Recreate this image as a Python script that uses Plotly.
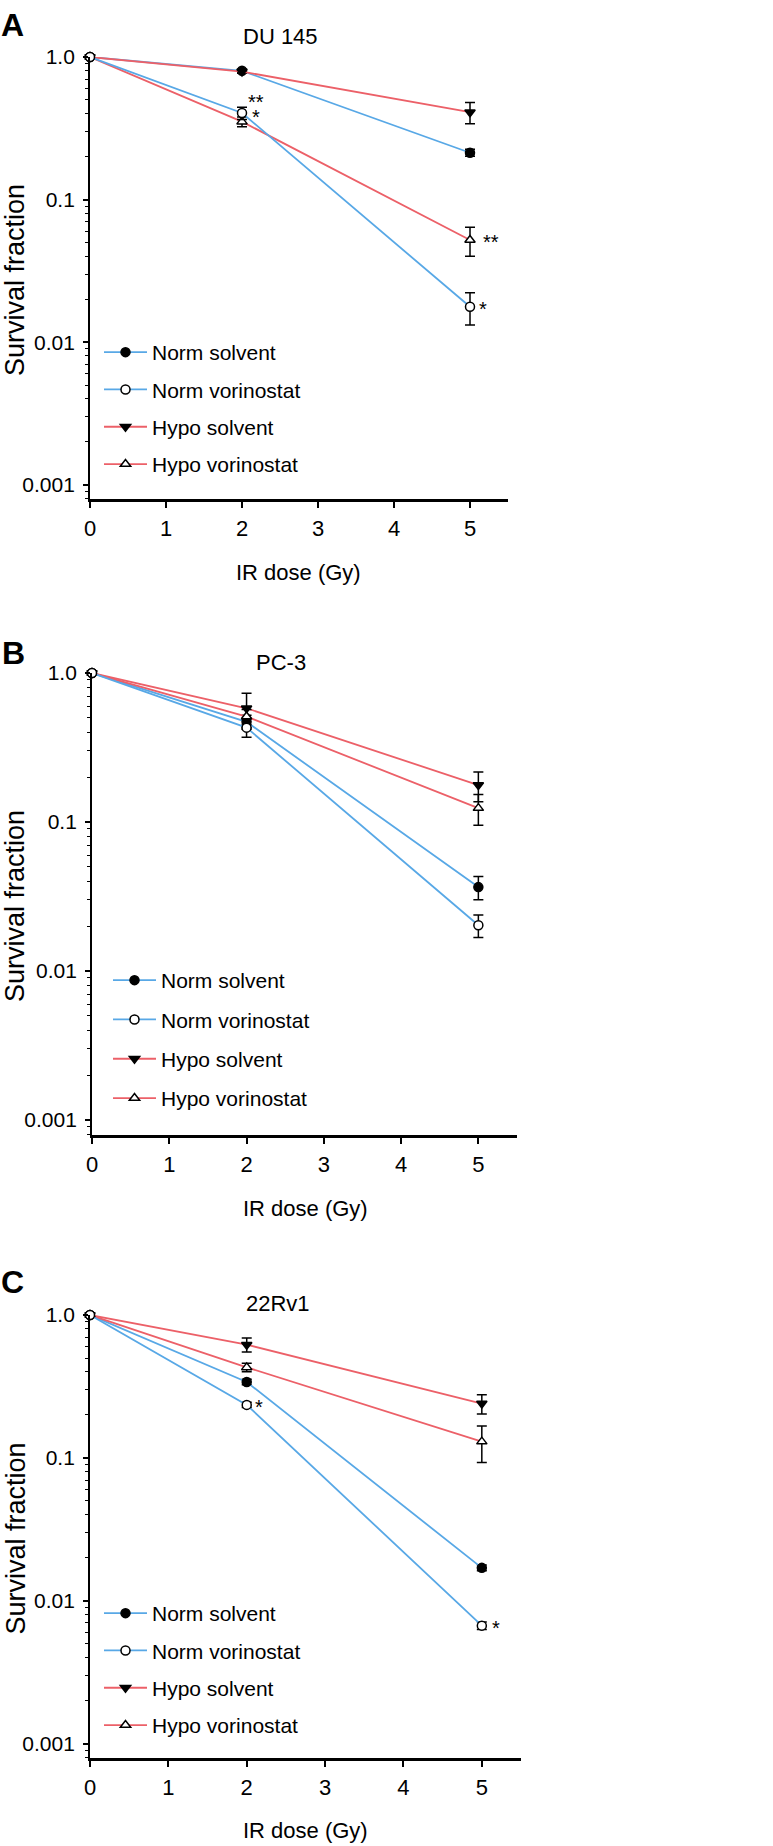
import math
import plotly.graph_objects as go

W, H = 773, 1846
OFF = 0

dose = [0, 2, 5]
series_names = ["Norm solvent", "Norm vorinostat", "Hypo solvent", "Hypo vorinostat"]

# Panel A: DU 145
du145_norm_solvent = [1.0, 0.80, 0.213]
du145_norm_vorinostat = [1.0, 0.405, 0.0177]
du145_hypo_solvent = [1.0, 0.79, 0.41]
du145_hypo_vorinostat = [1.0, 0.352, 0.052]
du145_err_ns = [0, 0.02, 0.012]
du145_err_nv = [0, 0.04, 0.0045]
du145_err_hs = [0, 0.02, 0.07]
du145_err_hv = [0, 0.028, 0.012]

# Panel B: PC-3
pc3_norm_solvent = [1.0, 0.47, 0.0366]
pc3_norm_vorinostat = [1.0, 0.43, 0.0203]
pc3_hypo_solvent = [1.0, 0.58, 0.177]
pc3_hypo_vorinostat = [1.0, 0.51, 0.124]
pc3_err_ns = [0, 0.05, 0.0065]
pc3_err_nv = [0, 0.06, 0.0035]
pc3_err_hs = [0, 0.15, 0.04]
pc3_err_hv = [0, 0.06, 0.029]

# Panel C: 22Rv1
rv1_norm_solvent = [1.0, 0.34, 0.0170]
rv1_norm_vorinostat = [1.0, 0.235, 0.0067]
rv1_hypo_solvent = [1.0, 0.62, 0.24]
rv1_hypo_vorinostat = [1.0, 0.43, 0.13]
rv1_err_ns = [0, 0.015, 0.0008]
rv1_err_nv = [0, 0.01, 0.0004]
rv1_err_hs = [0, 0.07, 0.037]
rv1_err_hv = [0, 0.03, 0.037]

panel_titles = ["DU 145", "PC-3", "22Rv1"]
panel_letters = ["A", "B", "C"]
y_tickvals = [1.0, 0.1, 0.01, 0.001]
y_ticktext = ["1.0", "0.1", "0.01", "0.001"]
x_tickvals = [0, 1, 2, 3, 4, 5]
y_minor_tickvals = [m * 10.0 ** k for k in (-4, -3, -2, -1) for m in range(2, 10)]

# significance marks: (panel index, dose, value, text, xshift)
asterisks = [
    (0, 2, 0.50, "**", 6),
    (0, 2, 0.39, "*", 10),
    (0, 5, 0.052, "**", 13),
    (0, 5, 0.0177, "*", 9),
    (2, 2, 0.235, "*", 8),
    (2, 5, 0.0067, "*", 10),
]

panels = [
    ([du145_norm_solvent, du145_norm_vorinostat, du145_hypo_solvent, du145_hypo_vorinostat],
     [du145_err_ns, du145_err_nv, du145_err_hs, du145_err_hv]),
    ([pc3_norm_solvent, pc3_norm_vorinostat, pc3_hypo_solvent, pc3_hypo_vorinostat],
     [pc3_err_ns, pc3_err_nv, pc3_err_hs, pc3_err_hv]),
    ([rv1_norm_solvent, rv1_norm_vorinostat, rv1_hypo_solvent, rv1_hypo_vorinostat],
     [rv1_err_ns, rv1_err_nv, rv1_err_hs, rv1_err_hv]),
]

BLUE = "#58A8E6"
RED = "#EC6068"
line_colors = [BLUE, BLUE, RED, RED]
symbols = ["circle", "circle", "triangle-down", "triangle-up"]
fills = ["black", "white", "black", "white"]
draw_order = [0, 2, 3, 1]

FONT = "Liberation Sans, Arial, sans-serif"

# page-pixel layout of each panel: (x0, x1, ytop(1.0), ybottom(axis))
geom = [
    (90, 508, 57, 499),
    (92, 517, 673, 1135),
    (90, 521, 1315, 1758),
]
title_pos = [(280, 37), (281, 663), (278, 1303)]
xtitle_pos = [(298, 572), (305, 1208), (305, 1830)]
letter_pos = [(13, 25), (14, 653), (13, 1282)]
ytitle_x = 15
legend_pos = [(99, 332), (108, 960), (99, 1593)]
legend_gaps = [7, 9, 7]


def px(x):
    return (x - OFF) / W


def py(y):
    return 1 - (y - OFF) / H


fig = go.Figure()

for p, (vals, errs) in enumerate(panels):
    sfx = "" if p == 0 else str(p + 1)
    for i in draw_order:
        fig.add_trace(go.Scatter(
            x=dose, y=vals[i], name=series_names[i],
            mode="lines+markers",
            line=dict(color=line_colors[i], width=1.8),
            marker=dict(symbol=symbols[i], size=9, color=fills[i],
                        line=dict(color="black", width=1.5)),
            error_y=dict(type="data", array=errs[i], color="black",
                         thickness=1.5, width=5),
            cliponaxis=False,
            xaxis="x" + sfx, yaxis="y" + sfx,
            legend="legend" + sfx,
            legendgroup=f"g{p}_{i}",
            legendrank=i + 1,
        ))

layout = dict(
    template="none",
    width=W, height=H,
    margin=dict(l=0, r=0, t=0, b=0, autoexpand=False),
    paper_bgcolor="white", plot_bgcolor="white",
    font=dict(family=FONT, size=22, color="black"),
    showlegend=True,
)

annotations = []
for p in range(3):
    sfx = "" if p == 0 else str(p + 1)
    x0, x1, yt, yb = geom[p]
    layout["xaxis" + sfx] = dict(
        domain=[px(x0), px(x1)], range=[0, 5.5], anchor="y" + sfx,
        automargin=False,
        tickvals=x_tickvals, ticks="outside", ticklen=6, tickwidth=1.5,
        tickcolor="black", showline=True, linecolor="black", linewidth=2.5,
        showgrid=False, zeroline=False, ticklabelstandoff=2,
        tickfont=dict(family=FONT, size=22),
    )
    layout["yaxis" + sfx] = dict(
        domain=[py(yb), py(yt)], type="log", range=[-3.1, 0],
        anchor="x" + sfx, automargin=False,
        tickvals=y_tickvals, ticktext=y_ticktext, ticks="outside",
        ticklen=5, tickwidth=1.5, tickcolor="black",
        showline=True, linecolor="black", linewidth=1.8,
        showgrid=False, zeroline=False, ticklabelstandoff=4,
        tickfont=dict(family=FONT, size=21),
        minor=dict(tickvals=y_minor_tickvals, ticks="outside", ticklen=3,
                   tickwidth=1.2, tickcolor="black", showgrid=False),
    )
    lx, ly = legend_pos[p]
    layout["legend" + sfx] = dict(
        x=px(lx), y=py(ly), xanchor="left", yanchor="top",
        bgcolor="rgba(0,0,0,0)", borderwidth=0,
        font=dict(family=FONT, size=21), tracegroupgap=legend_gaps[p],
        itemwidth=43, traceorder="grouped",
    )
    tx, ty = title_pos[p]
    annotations.append(dict(text=panel_titles[p], x=px(tx), y=py(ty),
                            xref="paper", yref="paper", showarrow=False,
                            xanchor="center", yanchor="middle",
                            font=dict(family=FONT, size=22)))
    xtx, xty = xtitle_pos[p]
    annotations.append(dict(text="IR dose (Gy)", x=px(xtx), y=py(xty),
                            xref="paper", yref="paper", showarrow=False,
                            xanchor="center", yanchor="middle",
                            font=dict(family=FONT, size=22)))
    annotations.append(dict(text="Survival fraction", x=px(ytitle_x),
                            y=py((yt + yb) / 2 + 2), xref="paper",
                            yref="paper", showarrow=False, textangle=-90,
                            xanchor="center", yanchor="middle",
                            font=dict(family=FONT, size=27)))
    lx_, ly_ = letter_pos[p]
    annotations.append(dict(text="<b>" + panel_letters[p] + "</b>",
                            x=px(lx_), y=py(ly_), xref="paper", yref="paper",
                            showarrow=False, xanchor="center", yanchor="middle",
                            font=dict(family=FONT, size=32)))

for (p, xd, yv, txt, xs) in asterisks:
    sfx = "" if p == 0 else str(p + 1)
    annotations.append(dict(text=txt, x=xd, y=math.log10(yv),
                            xref="x" + sfx, yref="y" + sfx, showarrow=False,
                            xanchor="left", yanchor="middle", xshift=xs - 2,
                            yshift=-2,
                            font=dict(family=FONT, size=20)))

layout["annotations"] = annotations
fig.update_layout(**layout)
fig.write_html("out.html",
               config={"displayModeBar": False},
               post_script="document.body.style.margin='0px';")
